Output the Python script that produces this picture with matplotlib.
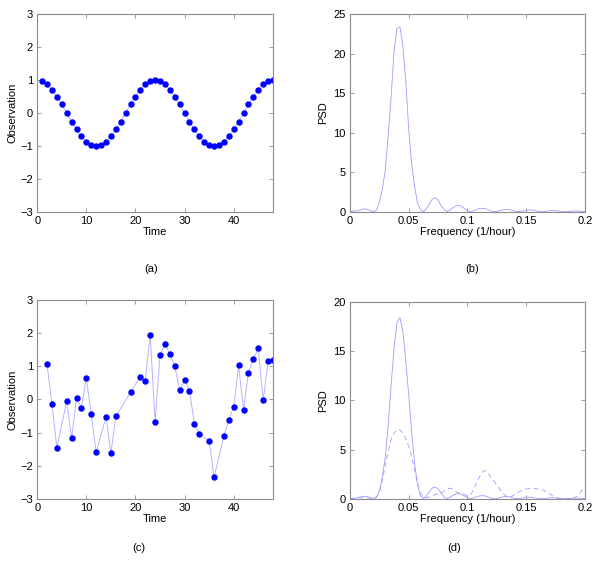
import numpy as np
import matplotlib.pyplot as plt

plt.rcParams['font.family'] = ['Liberation Sans', 'DejaVu Sans']
plt.rcParams['font.size'] = 8

# (a) regular hourly observations
t_a = list(range(1, 49))
obs_a = [0.97, 0.87, 0.71, 0.5, 0.26, 0.0, -0.26, -0.5, -0.71, -0.87, -0.97, -1.0,
         -0.97, -0.87, -0.71, -0.5, -0.26, 0.0, 0.26, 0.5, 0.71, 0.87, 0.97, 1.0,
         0.97, 0.87, 0.71, 0.5, 0.26, 0.0, -0.26, -0.5, -0.71, -0.87, -0.97, -1.0,
         -0.97, -0.87, -0.71, -0.5, -0.26, 0.0, 0.26, 0.5, 0.71, 0.87, 0.97, 1.0]

# (c) noisy, gapped observations
t_c = [2, 3, 4, 6, 7, 8, 9, 10, 11, 12, 14, 15, 16, 19, 21, 22, 23, 24, 25, 26,
       27, 28, 29, 30, 31, 32, 33, 35, 36, 38, 39, 40, 41, 42, 43, 44, 45, 46, 47, 48]
obs_c = [1.06, -0.13, -1.46, -0.06, -1.17, 0.04, -0.25, 0.64, -0.44, -1.6, -0.53, -1.63,
         -0.51, 0.21, 0.69, 0.57, 1.95, -0.68, 1.35, 1.66, 1.38, 1.0, 0.28, 0.59, 0.26,
         -0.73, -1.05, -1.24, -2.35, -1.1, -0.61, -0.23, 1.03, -0.32, 0.81, 1.22, 1.54,
         -0.03, 1.15, 1.2]

# frequency grid (1/hour)
freq = [i * 0.0025 for i in range(81)]

psd_b = [0.05, 0.08, 0.12, 0.2, 0.3, 0.38, 0.3, 0.15, 0.03, 0.2,
         1.2, 2.9, 5.2, 9.6, 14.5, 20.3, 23.2, 23.4, 21.0, 16.5,
         10.4, 6.0, 3.2, 1.1, 0.3, 0.02, 0.4, 1.0, 1.6, 1.8,
         1.5, 0.8, 0.3, 0.05, 0.2, 0.5, 0.75, 0.82, 0.7, 0.4,
         0.15, 0.03, 0.1, 0.28, 0.42, 0.46, 0.42, 0.28, 0.12, 0.03,
         0.05, 0.15, 0.26, 0.3, 0.3, 0.22, 0.1, 0.02, 0.05, 0.12,
         0.2, 0.24, 0.24, 0.18, 0.08, 0.02, 0.03, 0.08, 0.14, 0.16,
         0.15, 0.1, 0.04, 0.01, 0.03, 0.07, 0.1, 0.12, 0.1, 0.06, 0.02]

psd_d_solid = [0.05, 0.05, 0.08, 0.15, 0.22, 0.28, 0.22, 0.1, 0.02, 0.15,
               0.8, 2.2, 4.2, 7.5, 11.5, 15.3, 17.9, 18.4, 17.0, 14.0,
               10.5, 6.8, 3.6, 1.4, 0.3, 0.02, 0.3, 0.75, 1.1, 1.2,
               1.0, 0.6, 0.2, 0.03, 0.15, 0.35, 0.5, 0.55, 0.45, 0.28,
               0.1, 0.02, 0.08, 0.2, 0.3, 0.33, 0.3, 0.2, 0.08, 0.02,
               0.04, 0.12, 0.2, 0.24, 0.22, 0.15, 0.06, 0.02, 0.04, 0.1,
               0.16, 0.18, 0.16, 0.1, 0.04, 0.02, 0.03, 0.07, 0.11, 0.12,
               0.1, 0.06, 0.02, 0.01, 0.03, 0.06, 0.08, 0.09, 0.07, 0.04, 0.02]

psd_d_dashed = [0.05, 0.05, 0.08, 0.1, 0.12, 0.12, 0.1, 0.05, 0.05, 0.2,
                0.6, 1.8, 3.4, 4.8, 6.0, 6.7, 7.0, 7.0, 6.7, 6.1,
                5.3, 4.3, 2.9, 1.6, 0.6, 0.15, 0.1, 0.2, 0.35, 0.45,
                0.5, 0.6, 0.8, 1.0, 1.1, 1.0, 0.75, 0.6, 0.55, 0.45,
                0.3, 0.4, 0.9, 1.6, 2.2, 2.7, 2.9, 2.6, 2.2, 1.8,
                1.35, 1.0, 0.6, 0.3, 0.2, 0.25, 0.45, 0.65, 0.8, 0.9,
                1.0, 1.05, 1.08, 1.05, 1.0, 0.98, 0.85, 0.7, 0.5, 0.3,
                0.15, 0.08, 0.05, 0.05, 0.05, 0.05, 0.08, 0.2, 0.5, 0.9, 0.9]

fig = plt.figure(figsize=(6, 5.65), dpi=100)

frame = '#8c8c8c'
line_c = '#b4b4ff'
psd_c = '#9d9dff'
freq_ticks = [0, 0.05, 0.1, 0.15, 0.2]
freq_labels = ['0', '0.05', '0.1', '0.15', '0.2']


def style(ax):
    for s in ax.spines.values():
        s.set_color(frame)
        s.set_linewidth(0.8)
    ax.tick_params(direction='in', length=3, width=0.6, color=frame,
                   top=True, right=True, labelsize=8, pad=3)


ax_a = fig.add_axes([0.062, 0.625, 0.393, 0.350])
ax_a.plot(t_a, obs_a, '-', color=line_c, lw=0.7)
ax_a.plot(t_a, obs_a, 'o', color='#0000ff', ms=3.6, mec='#0000ff')
ax_a.set_xlim(0, 48)
ax_a.set_ylim(-3, 3)
ax_a.set_xticks([0, 10, 20, 30, 40])
ax_a.set_xlabel('Time', labelpad=1)
ax_a.set_ylabel('Observation', labelpad=2)
style(ax_a)

ax_b = fig.add_axes([0.5833, 0.625, 0.3917, 0.350])
ax_b.plot(freq, psd_b, '-', color=psd_c, lw=0.6)
ax_b.set_xlim(0, 0.2)
ax_b.set_ylim(0, 25)
ax_b.set_xticks(freq_ticks)
ax_b.set_xticklabels(freq_labels)
ax_b.set_yticks([0, 5, 10, 15, 20, 25])
ax_b.set_xlabel('Frequency (1/hour)', labelpad=1)
ax_b.set_ylabel('PSD', labelpad=4)
style(ax_b)

ax_c = fig.add_axes([0.062, 0.117, 0.393, 0.352])
ax_c.plot(t_c, obs_c, '-', color=line_c, lw=0.7)
ax_c.plot(t_c, obs_c, 'o', color='#0000ff', ms=3.6, mec='#0000ff')
ax_c.set_xlim(0, 48)
ax_c.set_ylim(-3, 3)
ax_c.set_xticks([0, 10, 20, 30, 40])
ax_c.set_xlabel('Time', labelpad=1)
ax_c.set_ylabel('Observation', labelpad=2)
style(ax_c)

ax_d = fig.add_axes([0.5833, 0.117, 0.3917, 0.349])
ax_d.plot(freq, psd_d_solid, '-', color=psd_c, lw=0.6)
ax_d.plot(freq, psd_d_dashed, '--', color=psd_c, lw=0.6, dashes=(6, 4))
ax_d.set_xlim(0, 0.2)
ax_d.set_ylim(0, 20)
ax_d.set_xticks(freq_ticks)
ax_d.set_xticklabels(freq_labels)
ax_d.set_yticks([0, 5, 10, 15, 20])
ax_d.set_yticklabels(['0', '5', '10', '15', '20'])
ax_d.set_xlabel('Frequency (1/hour)', labelpad=1)
ax_d.set_ylabel('PSD', labelpad=4)
style(ax_d)

fig.text(151 / 600, 1 - 269 / 565, '(a)', ha='center', va='center', fontsize=8)
fig.text(472 / 600, 1 - 269 / 565, '(b)', ha='center', va='center', fontsize=8)
fig.text(139 / 600, 1 - 548 / 565, '(c)', ha='center', va='center', fontsize=8)
fig.text(454 / 600, 1 - 548 / 565, '(d)', ha='center', va='center', fontsize=8)

fig.savefig('out.png', dpi=100)
